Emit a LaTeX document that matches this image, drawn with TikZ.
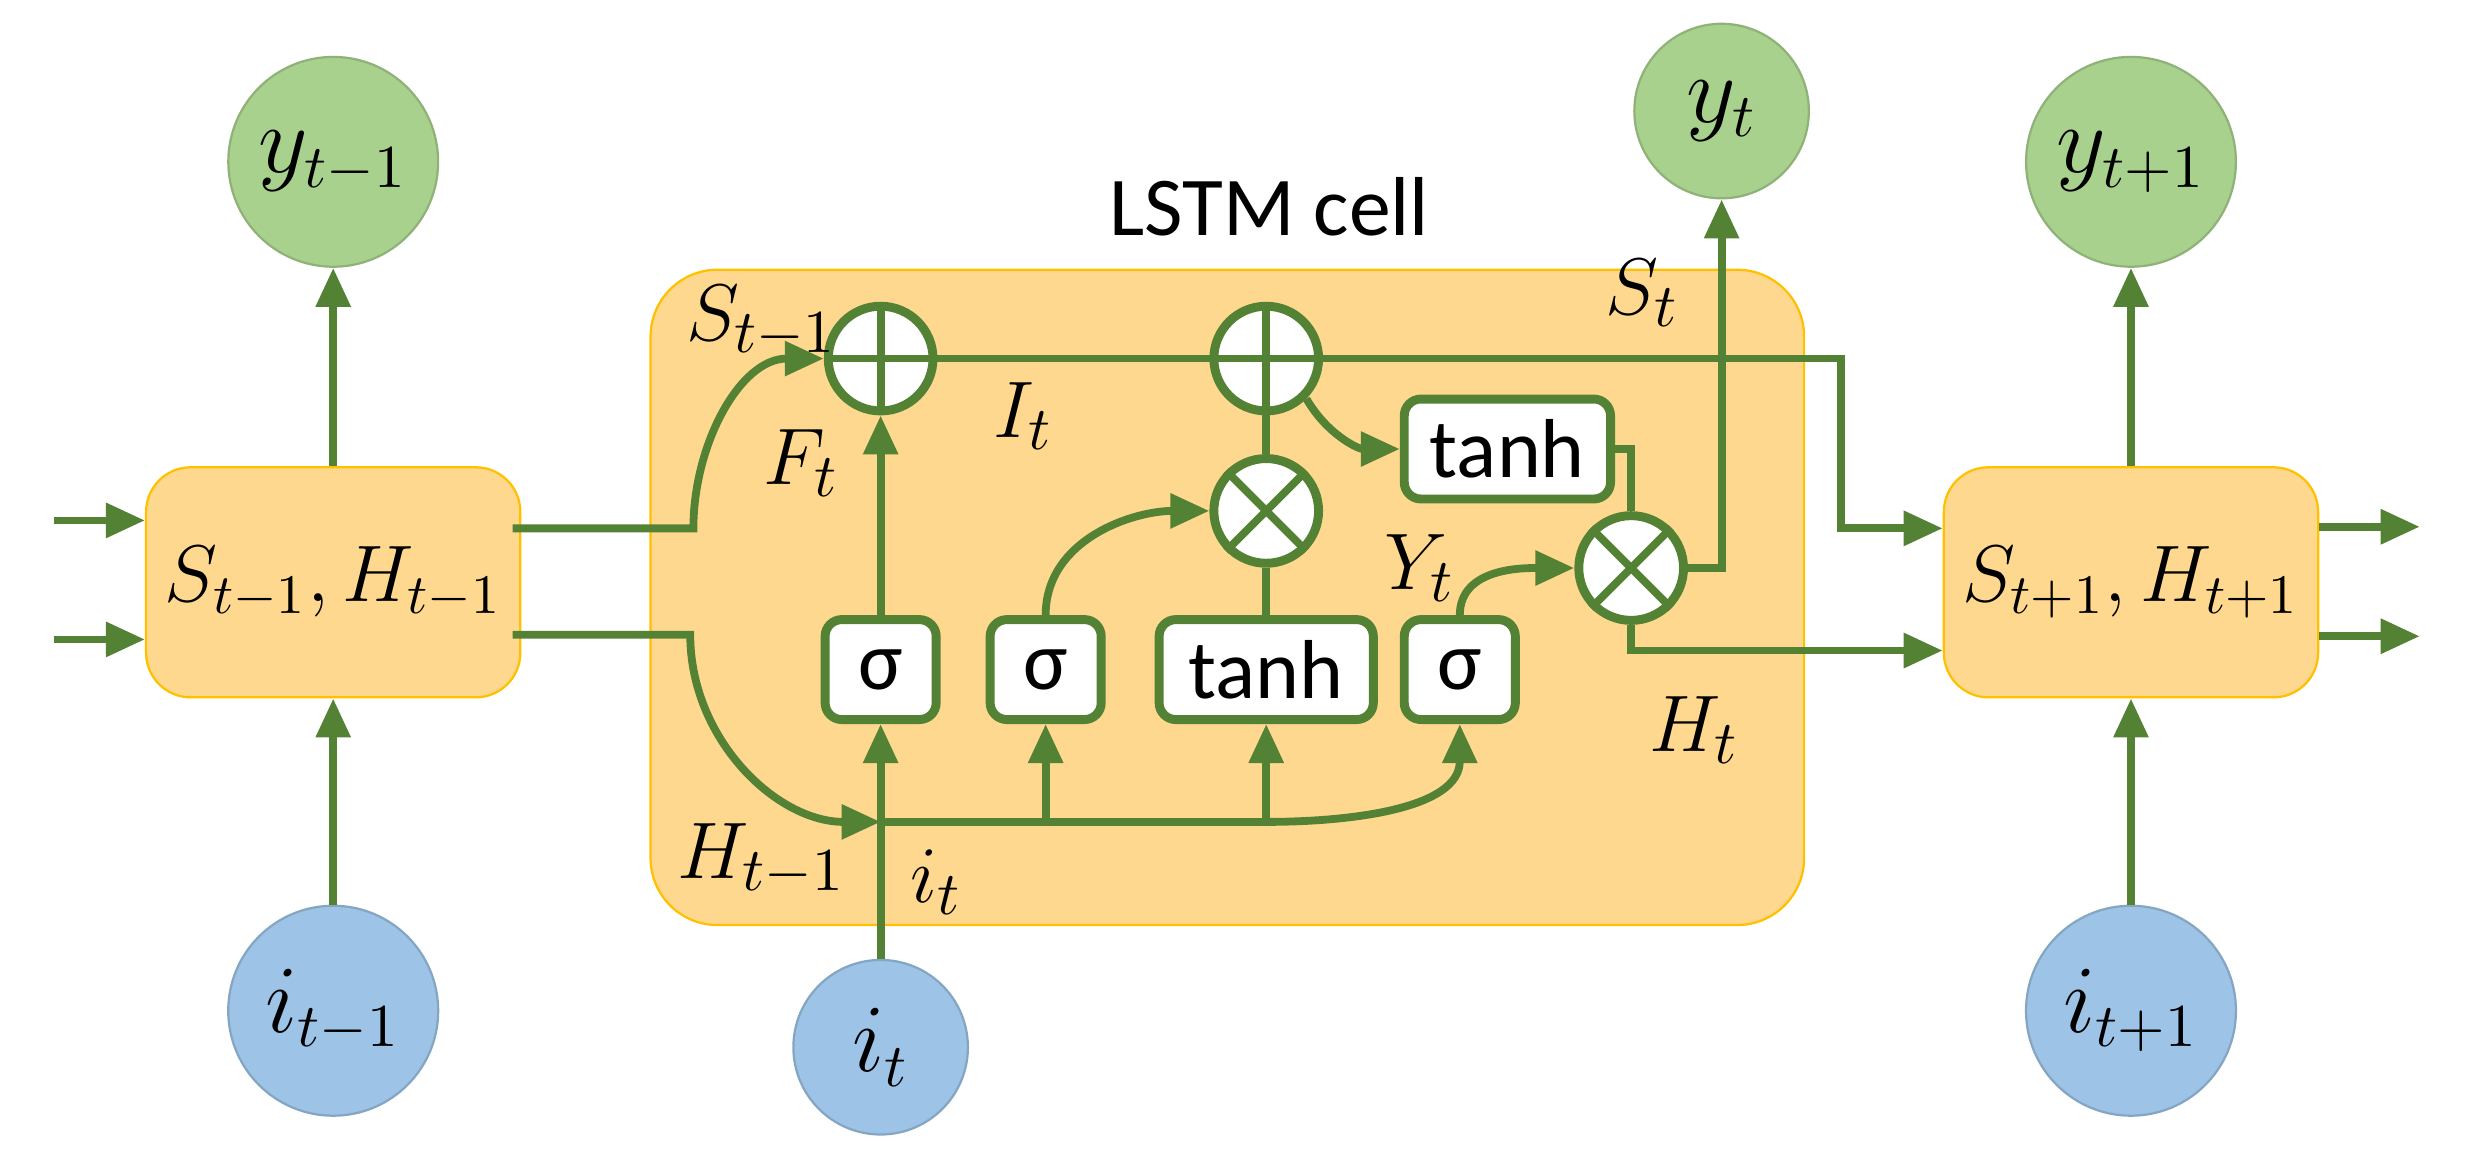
\documentclass[tikz,border=0pt]{standalone}
\usepackage{fontspec}
\setmainfont{Carlito}
\usepackage{amsmath}
\usetikzlibrary{arrows.meta}
\definecolor{lgreen}{HTML}{548235}
\definecolor{cellfill}{HTML}{FFD890}
\definecolor{celldraw}{HTML}{FFC000}
\definecolor{outfill}{HTML}{A9D18E}
\definecolor{infill}{HTML}{9DC3E6}

\begin{document}
\begin{tikzpicture}[x=0.1mm,y=-0.1mm]
            \tikzstyle{every path}=[line width=1.4pt,lgreen]
            \tikzstyle{flow}=[-{Triangle[length=7pt,width=6pt]}]
            \tikzstyle{state}=[draw=celldraw,fill=cellfill,thin,rounded corners=8pt,minimum width=22.6mm,minimum height=14.5mm,text=black,font=\fontsize{14}{16}\selectfont]
            \tikzstyle{output}=[circle,draw=outfill!85!black,thin,fill=outfill,minimum size=11mm,text=black,font=\fontsize{16}{18}\selectfont]
            \tikzstyle{input}=[circle,draw=infill!85!black,thin,fill=infill,minimum size=11mm,text=black,font=\fontsize{16}{18}\selectfont]
            \tikzstyle{gate}=[draw,fill=white,rounded corners=3pt,line width=1.6pt,minimum height=6.3mm,text=black,font=\fontsize{15}{17}\selectfont]
            \tikzstyle{op}=[circle,draw,fill=white,line width=1.6pt,minimum size=6.6mm,inner sep=0pt]
            \tikzstyle{lbl}=[text=black,font=\fontsize{15}{17}\selectfont]

            \useasboundingbox (0,0) rectangle (1568,731);

            % LSTM cell
            \draw[draw=celldraw,fill=cellfill,thin,rounded corners=12pt] (410,170) rectangle (1137,583);
            \node[text=black,font=\fontsize{15}{17}\selectfont] (title) at (800,130) {LSTM cell};

            % neighbouring states
            \node[state] (sprev) at (210,367) {$S_{t-1},H_{t-1}$};
            \node[state] (snext) at (1343,367) {$S_{t+1},H_{t+1}$};

            % outputs and inputs
            \node[output] (yprev) at (210,102) {$y_{t-1}$};
            \node[output] (ycur) at (1085,70) {$y_{t}$};
            \node[output] (ynext) at (1343,102) {$y_{t+1}$};
            \node[input] (iprev) at (210,637) {$i_{t-1}$};
            \node[input] (icur) at (555,660) {$i_{t}$};
            \node[input] (inext) at (1343,637) {$i_{t+1}$};

            % gates
            \node[gate,minimum width=7mm] (sig1) at (555,422) {σ};
            \node[gate,minimum width=7mm] (sig2) at (659,422) {σ};
            \node[gate,minimum width=13.5mm] (tanh2) at (798,422) {tanh};
            \node[gate,minimum width=7mm] (sig3) at (920,422) {σ};
            \node[gate,minimum width=13mm] (tanh1) at (950,283) {tanh};

            % pointwise ops
            \node[op] (plus1) at (555,226) {};
            \node[op] (plus2) at (798,226) {};
            \node[op] (mul1) at (798,322) {};
            \node[op] (mul2) at (1028,358) {};
            \foreach \o in {plus1,plus2} {
              \draw (\o.north) -- (\o.south);
              \draw (\o.west) -- (\o.east);
            }
            \foreach \o in {mul1,mul2} {
              \draw (\o.north west) -- (\o.south east);
              \draw (\o.north east) -- (\o.south west);
            }

            % helper points
            \coordinate (hjoin) at (555,518);
            \coordinate (hsig2) at (659,518);
            \coordinate (htanh) at (798,518);
            \coordinate (inl1) at (34,328);
            \coordinate (inl2) at (34,403);
            \coordinate (outr1) at (1525,332);
            \coordinate (outr2) at (1525,401);

            % outer connections
            \draw[flow] (sprev) -- (yprev);
            \draw[flow] (iprev) -- (sprev);
            \draw[flow] (snext) -- (ynext);
            \draw[flow] (inext) -- (snext);
            \draw[flow] (inl1) -- (inl1 -| sprev.west);
            \draw[flow] (inl2) -- (inl2 -| sprev.west);
            \draw[flow] (outr1 -| snext.east) -- (outr1);
            \draw[flow] (outr2 -| snext.east) -- (outr2);

            % cell state path
            \draw[flow] (323,333) -- (437,333) to[out=90,in=180] (plus1.west);
            \draw (plus1.east) -- (plus2.west);
            \draw[flow] (plus2.east) -- (1160,226) -- (1160,333) -- (1160,333 -| snext.west);
            \draw[flow] (plus2.south east) to[out=-60,in=180] (tanh1.west);
            \draw (tanh1.east) -- (mul2 |- tanh1.east) -- (mul2.north);
            \draw (plus2) -- (mul1);
            \draw (tanh2) -- (mul1);

            % hidden state path
            \draw[flow] (323,400) -- (435,400) to[out=-90,in=180] (hjoin);
            \draw[flow] (icur) -- (sig1);
            \draw (hjoin) -- (htanh);
            \draw[flow] (hsig2) -- (sig2);
            \draw[flow] (htanh) -- (tanh2);
            \draw[flow] (htanh) to[out=0,in=-90] (sig3);
            \draw[flow] (sig1) -- (plus1);
            \draw[flow] (sig2) to[out=90,in=180] (mul1);
            \draw[flow] (sig3) to[out=90,in=180] (mul2);
            \draw[flow] (mul2.east) -- (ycur |- mul2) -- (ycur);
            \draw[flow] (mul2.south) -- (1028,410) -- (1028,410 -| snext.west);

            % labels
            \node[lbl] (lS1) at (480,203) {$S_{t-1}$};
            \node[lbl] (lF) at (505,292) {$F_{t}$};
            \node[lbl] (lI) at (645,262) {$I_{t}$};
            \node[lbl] (lY) at (895,358) {$Y_{t}$};
            \node[lbl] (lS) at (1035,185) {$S_{t}$};
            \node[lbl] (lH) at (1068,460) {$H_{t}$};
            \node[lbl] (lH1) at (480,542) {$H_{t-1}$};
            \node[lbl] (li) at (590,556) {$i_{t}$};
\end{tikzpicture}
\end{document}
